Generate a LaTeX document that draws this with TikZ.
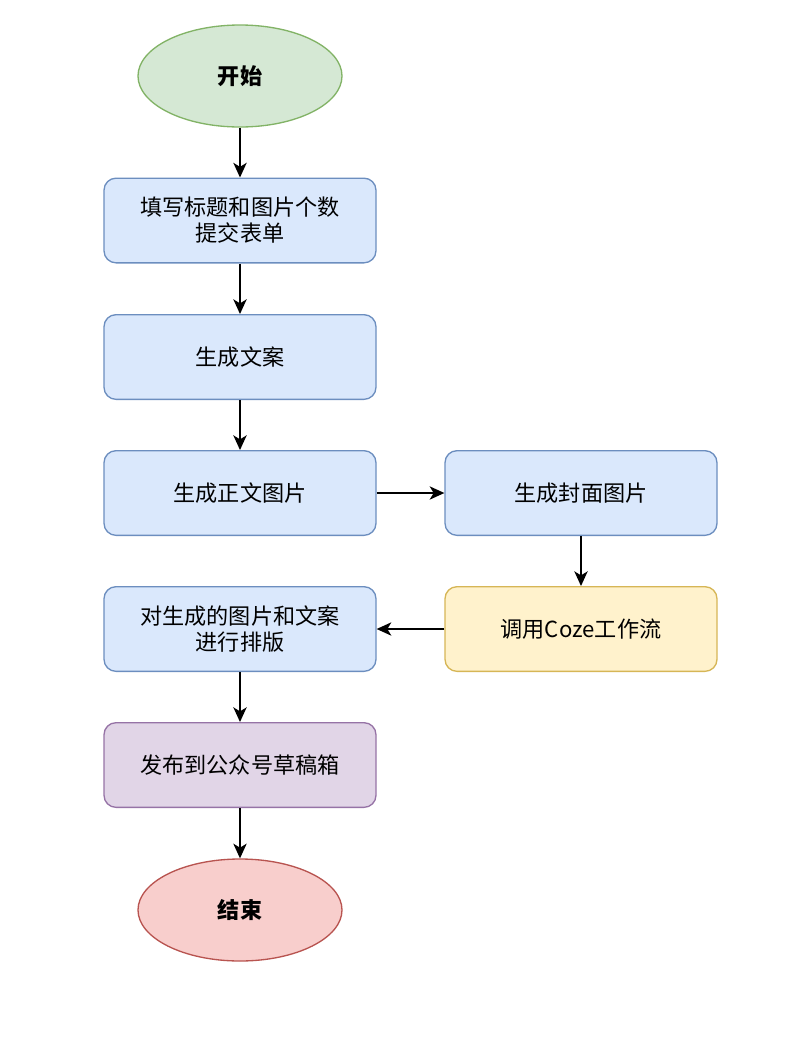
\documentclass[tikz,border=0pt]{standalone}
\usepackage{fontspec}
\setmainfont{Noto Sans CJK SC}
\usetikzlibrary{arrows.meta,shapes.geometric}

\definecolor{startfill}{HTML}{D5E8D4}\definecolor{startline}{HTML}{82B366}
\definecolor{stepfill}{HTML}{DAE8FC}\definecolor{stepline}{HTML}{6C8EBF}
\definecolor{cozefill}{HTML}{FFF2CC}\definecolor{cozeline}{HTML}{D6B656}
\definecolor{pubfill}{HTML}{E1D5E7}\definecolor{publine}{HTML}{9673A6}
\definecolor{endfill}{HTML}{F8CECC}\definecolor{endline}{HTML}{B85450}

\begin{document}
\begin{tikzpicture}[x=0.75pt, y=-0.75pt,
  every node/.style={font=\fontsize{16.6}{19.5}\selectfont, align=center},
  terminal/.style={ellipse, draw, line width=1pt, minimum width=153pt, minimum height=76.5pt, inner sep=0pt, font=\fontsize{16.6}{19.5}\selectfont\bfseries},
  stepbox/.style={draw=stepline, fill=stepfill, line width=1pt, rounded corners=9pt, minimum width=204pt, minimum height=63.5pt, inner sep=2pt},
  flow/.style={-{Stealth[length=11pt, width=10pt, inset=3pt]}, line width=1.1pt}]

  \useasboundingbox (0,0) rectangle (807,1047);

  % start and end
  \node[terminal, draw=startline, fill=startfill] (start) at (240,76) {开始};
  \node[terminal, draw=endline, fill=endfill] (stop) at (240,910) {结束};

  % left column
  \node[stepbox] (form)   at (240,220.5) {填写标题和图片个数\\提交表单};
  \node[stepbox] (text)   at (240,357)   {生成文案};
  \node[stepbox] (body)   at (240,493)   {生成正文图片};
  \node[stepbox] (layout) at (240,629)   {对生成的图片和文案\\进行排版};
  \node[stepbox, draw=publine, fill=pubfill] (publish) at (240,765) {发布到公众号草稿箱};

  % right column
  \node[stepbox] (cover) at (581,493) {生成封面图片};
  \node[stepbox, draw=cozeline, fill=cozefill] (coze) at (581,629) {调用Coze工作流};

  % connectors
  \draw[flow] (start) -- (form);
  \draw[flow] (form) -- (text);
  \draw[flow] (text) -- (body);
  \draw[flow] (body) -- (cover);
  \draw[flow] (cover) -- (coze);
  \draw[flow] (coze) -- (layout);
  \draw[flow] (layout) -- (publish);
  \draw[flow] (publish) -- (stop);
\end{tikzpicture}
\end{document}
